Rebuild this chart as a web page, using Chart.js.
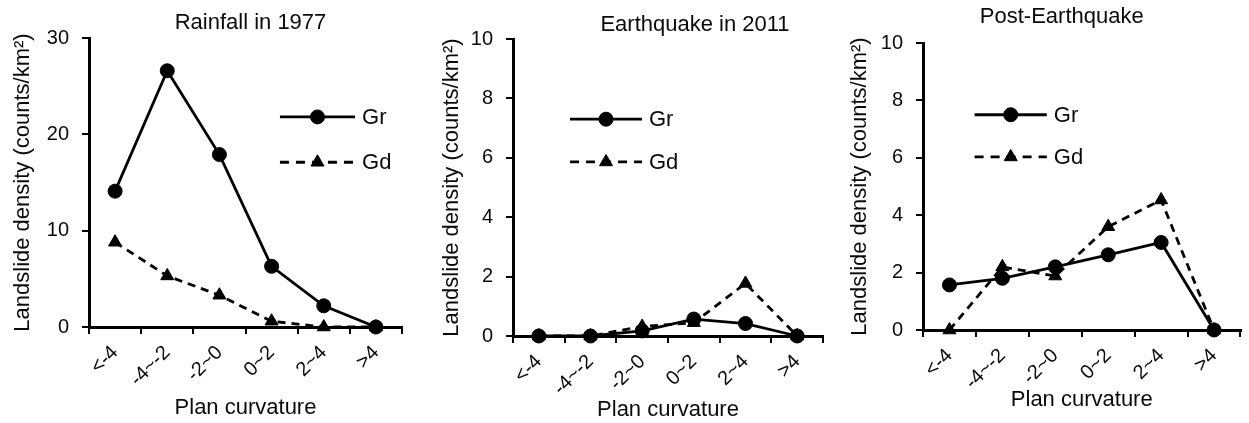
<!DOCTYPE html>
<html>
<head>
<meta charset="utf-8">
<script src="https://cdn.jsdelivr.net/npm/chart.js@4"></script>
<style>
html, body { margin: 0; padding: 0; background: #fff; }
body { width: 1249px; height: 423px; position: relative; overflow: hidden; }
.panel { position: absolute; top: 0; height: 423px; }
</style>
</head>
<body>
<div class="panel" style="left:0;width:415px"><canvas id="c1"></canvas></div>
<div class="panel" style="left:415px;width:420px"><canvas id="c2"></canvas></div>
<div class="panel" style="left:835px;width:414px"><canvas id="c3"></canvas></div>
<script>
// Data
const categories = ['<-4', '-4~-2', '-2~0', '0~2', '2~4', '>4'];
const titles = ['Rainfall in 1977', 'Earthquake in 2011', 'Post-Earthquake'];
const seriesNames = ['Gr', 'Gd'];

const rainfallGr = [14.1, 26.6, 17.9, 6.3, 2.2, 0];
const rainfallGd = [8.8, 5.3, 3.3, 0.6, 0, 0];
const quakeGr = [0, 0, 0.17, 0.57, 0.42, 0];
const quakeGd = [0, 0, 0.32, 0.45, 1.77, 0];
const postGr = [1.57, 1.8, 2.2, 2.62, 3.05, 0];
const postGd = [0, 2.2, 1.88, 3.6, 4.53, 0];

const yMaxes = [30, 10, 10];
const ySteps = [10, 2, 2];

const FONT = "'Liberation Sans', Arial, sans-serif";
const INK = '#0a0a0a';

// panel title drawn relative to the plot area
const panelTitle = {
  id: 'panelTitle',
  afterDraw(chart, args, opts) {
    const { ctx, chartArea: a } = chart;
    ctx.save();
    ctx.font = '22px ' + FONT;
    ctx.fillStyle = INK;
    ctx.textAlign = 'center';
    ctx.textBaseline = 'middle';
    ctx.fillText(opts.text, (a.left + a.right) / 2 + opts.dx, opts.y);
    ctx.restore();
  }
};

// legend sitting inside the plot area (line + marker + label)
const insideLegend = {
  id: 'insideLegend',
  afterDatasetsDraw(chart, args, opts) {
    const { ctx, chartArea: a } = chart;
    const w = a.right - a.left, h = a.bottom - a.top;
    const x0 = a.left + opts.x0 * w, x1 = a.left + opts.x1 * w;
    chart.data.datasets.forEach((ds, i) => {
      const y = a.top + opts.rows[i] * h;
      ctx.save();
      ctx.strokeStyle = ds.borderColor;
      ctx.lineWidth = ds.borderWidth;
      ctx.setLineDash(opts.dashes[i]);
      ctx.beginPath();
      ctx.moveTo(x0, y);
      ctx.lineTo(x1, y);
      ctx.stroke();
      ctx.setLineDash([]);
      ctx.fillStyle = ds.pointBackgroundColor;
      ctx.strokeStyle = ds.pointBorderColor;
      ctx.lineWidth = 1;
      Chart.helpers.drawPoint(ctx, { pointStyle: ds.pointStyle, radius: ds.pointRadius, rotation: 0, borderWidth: 1 }, (x0 + x1) / 2, y);
      ctx.fillStyle = INK;
      ctx.font = '22px ' + FONT;
      ctx.textBaseline = 'middle';
      ctx.fillText(ds.label, x1 + 7, y + 1);
      ctx.restore();
    });
  }
};

function makeDataset(label, data, dashed) {
  return {
    label: label,
    data: data,
    borderColor: '#000',
    borderWidth: 2.8,
    borderDash: dashed ? [8, 6] : [],
    pointStyle: dashed ? 'triangle' : 'circle',
    pointRadius: dashed ? 7.5 : 7,
    pointHoverRadius: 7,
    pointBackgroundColor: '#000',
    pointBorderColor: '#000',
    pointBorderWidth: 1,
    tension: 0,
    fill: false,
    clip: false
  };
}

function makeChart(id, idx, gr, gd, lay) {
  return new Chart(document.getElementById(id), {
    type: 'line',
    data: {
      labels: categories,
      datasets: [makeDataset(seriesNames[0], gr, false), makeDataset(seriesNames[1], gd, true)]
    },
    options: {
      responsive: true,
      maintainAspectRatio: false,
      animation: false,
      layout: { padding: { top: lay.padTop, right: lay.padRight, left: 0, bottom: 0 } },
      plugins: {
        legend: { display: false },
        title: { display: false },
        tooltip: { enabled: false },
        panelTitle: { text: titles[idx], dx: lay.titleDx, y: lay.titleY },
        insideLegend: { x0: lay.lx0, x1: lay.lx1, rows: lay.rows, dashes: [[], [9, 7]] }
      },
      scales: {
        x: {
          type: 'category',
          offset: true,
          afterFit: s => { s.height = lay.xHeight; },
          grid: { offset: true, drawOnChartArea: false, drawTicks: true, tickLength: 7, color: '#000', lineWidth: 2 },
          border: { display: true, color: '#000', width: 3 },
          ticks: { autoSkip: false, maxRotation: 45, minRotation: 45, padding: 7, color: INK, font: { family: FONT, size: 20 } },
          title: { display: true, text: 'Plan curvature', color: INK, font: { family: FONT, size: 22 }, padding: { top: 0, bottom: lay.xTitlePad } }
        },
        y: {
          min: 0,
          max: yMaxes[idx],
          afterFit: s => { s.width = lay.yWidth; },
          grid: { drawOnChartArea: false, drawTicks: true, tickLength: 7, color: '#000', lineWidth: 2 },
          border: { display: true, color: '#000', width: 3 },
          ticks: { stepSize: ySteps[idx], padding: 13, color: INK, font: { family: FONT, size: 20 } },
          title: { display: true, text: 'Landslide density (counts/km²)', color: INK, font: { family: FONT, size: 22 }, padding: { top: lay.yTitlePad, bottom: 0 } }
        }
      }
    },
    plugins: [panelTitle, insideLegend]
  });
}

makeChart('c1', 0, rainfallGr, rainfallGd, {
  padTop: 38, padRight: 13, yWidth: 89, xHeight: 96, yTitlePad: 10, xTitlePad: 2,
  titleDx: 5, titleY: 23, lx0: 0.61, lx1: 0.85, rows: [0.273, 0.43]
});
makeChart('c2', 1, quakeGr, quakeGd, {
  padTop: 39, padRight: 12, yWidth: 98, xHeight: 87, yTitlePad: 24, xTitlePad: 0,
  titleDx: 27, titleY: 25, lx0: 0.184, lx1: 0.416, rows: [0.27, 0.414]
});
makeChart('c3', 2, postGr, postGd, {
  padTop: 43, padRight: 6, yWidth: 88, xHeight: 93, yTitlePad: 12, xTitlePad: 10,
  titleDx: -20, titleY: 17, lx0: 0.1625, lx1: 0.39, rows: [0.25, 0.397]
});
</script>
</body>
</html>
